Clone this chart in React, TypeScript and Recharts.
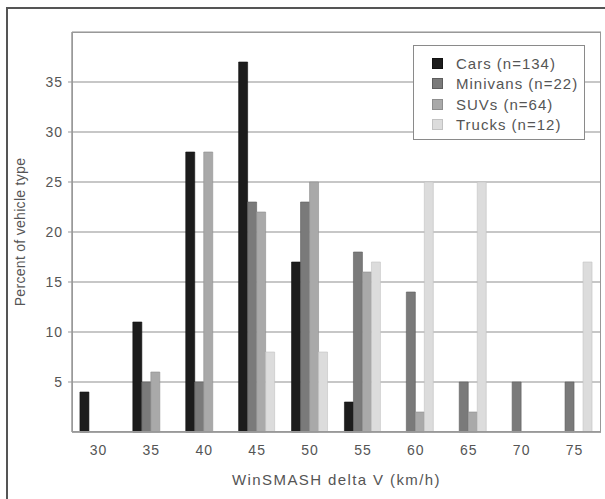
import { BarChart, Bar, XAxis, YAxis, CartesianGrid } from "recharts";

const speeds = ["30", "35", "40", "45", "50", "55", "60", "65", "70", "75"];
const cars = [4, 11, 28, 37, 17, 3, 0, 0, 0, 0];
const minivans = [0, 5, 5, 23, 23, 18, 14, 5, 5, 5];
const suvs = [0, 6, 28, 22, 25, 16, 2, 2, 0, 0];
const trucks = [0, 0, 0, 8, 8, 17, 25, 25, 0, 17];
const yTicks = [5, 10, 15, 20, 25, 30, 35];

const series = [
  { key: "cars", name: "Cars (n=134)", fill: "#1c1c1c", stroke: "#111" },
  { key: "minivans", name: "Minivans (n=22)", fill: "#7a7a7a", stroke: "#5e5e5e" },
  { key: "suvs", name: "SUVs (n=64)", fill: "#a9a9a9", stroke: "#8e8e8e" },
  { key: "trucks", name: "Trucks (n=12)", fill: "#dcdcdc", stroke: "#c2c2c2" },
];

const data = speeds.map((s, i) => ({
  speed: s,
  cars: cars[i],
  minivans: minivans[i],
  suvs: suvs[i],
  trucks: trucks[i],
}));

const font = "Arial, 'Liberation Sans', sans-serif";

// legend box sits over the plot, grid lines hidden behind it
const LegendBox = () => (
  <div
    style={{
      position: "absolute",
      left: 413,
      top: 45,
      width: 172,
      height: 95,
      border: "1.5px solid #8a8a8a",
      background: "#fff",
      boxSizing: "border-box",
      padding: "7px 0 0 18px",
      fontFamily: font,
      fontSize: 15,
      letterSpacing: 1,
      color: "#555",
    }}
  >
    {series.map((s) => (
      <div key={s.key} style={{ display: "flex", alignItems: "center", height: 20.5, whiteSpace: "nowrap" }}>
        <span
          style={{
            width: 9,
            height: 9,
            flex: "none",
            background: s.fill,
            border: `1px solid ${s.stroke}`,
            marginRight: 13,
          }}
        />
        <span>{s.name}</span>
      </div>
    ))}
  </div>
);

export default function App() {
  return (
    <div style={{ position: "absolute", left: 0, top: 0, width: 605, height: 499, background: "#fff", overflow: "hidden" }}>
      <div
        style={{
          position: "absolute",
          left: 6,
          top: 7,
          width: 605,
          height: 499,
          borderLeft: "2px solid #555",
          borderTop: "2px solid #555",
        }}
      />
      <BarChart
        width={605}
        height={499}
        data={data}
        margin={{ top: 32, right: 4, bottom: 0, left: 0 }}
        barGap={0}
        barCategoryGap="15%"
      >
        <CartesianGrid vertical={false} stroke="#b4b4b4" strokeWidth={1.5} />
        <XAxis
          dataKey="speed"
          height={67}
          tickLine={false}
          tickSize={0}
          tickMargin={13}
          axisLine={{ stroke: "#999", strokeWidth: 1.5 }}
          tick={{ fill: "#555", fontSize: 14, fontFamily: font, letterSpacing: 1 }}
          label={{
            value: "WinSMASH delta V (km/h)",
            position: "insideBottom",
            offset: 14,
            style: { fill: "#555", fontSize: 15, fontFamily: font, letterSpacing: 1.4 },
          }}
        />
        <YAxis
          width={72}
          domain={[0, 40]}
          ticks={yTicks}
          tickSize={4}
          tickMargin={5}
          axisLine={{ stroke: "#999", strokeWidth: 1.5 }}
          tickLine={{ stroke: "#999" }}
          tick={{ fill: "#555", fontSize: 14, fontFamily: font, letterSpacing: 1 }}
          label={{
            value: "Percent of vehicle type",
            angle: -90,
            position: "insideLeft",
            offset: 20,
            style: { textAnchor: "middle", fill: "#555", fontSize: 14, fontFamily: font, letterSpacing: 0.3 },
          }}
        />
        {series.map((s) => (
          <Bar
            key={s.key}
            dataKey={s.key}
            name={s.name}
            fill={s.fill}
            stroke={s.stroke}
            strokeWidth={0.6}
            isAnimationActive={false}
          />
        ))}
      </BarChart>
      <div
        style={{
          position: "absolute",
          left: 72,
          top: 32,
          width: 529,
          height: 400,
          border: "1.5px solid #999",
          boxSizing: "border-box",
          pointerEvents: "none",
        }}
      />
      <LegendBox />
    </div>
  );
}
